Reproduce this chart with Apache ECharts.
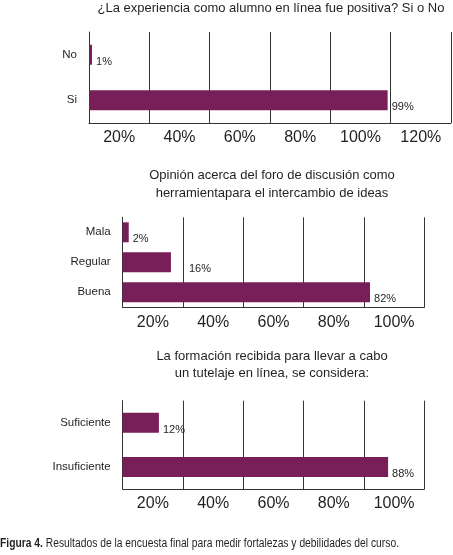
<!DOCTYPE html>
<html>
<head>
<meta charset="utf-8">
<script src="https://cdn.jsdelivr.net/npm/echarts@6/dist/echarts.min.js"></script>
<style>
html,body{margin:0;padding:0;background:#fff;}
#chart{width:453px;height:555px;}
</style>
</head>
<body>
<div id="chart"></div>
<script>
// ---- Data ----
var title1 = '¿La experiencia como alumno en línea fue positiva? Si o No';
var cats1 = ['Si', 'No'];
var vals1 = [99, 1];
var ticks1 = ['20%', '40%', '60%', '80%', '100%', '120%'];

var title2 = 'Opinión acerca del foro de discusión como\nherramientapara el intercambio de ideas';
var cats2 = ['Buena', 'Regular', 'Mala'];
var vals2 = [82, 16, 2];
var ticks2 = ['20%', '40%', '60%', '80%', '100%'];

var title3 = 'La formación recibida para llevar a cabo\nun tutelaje en línea, se considera:';
var cats3 = ['Insuficiente', 'Suficiente'];
var vals3 = [88, 12];
var ticks3 = ['20%', '40%', '60%', '80%', '100%'];

var captionBold = 'Figura 4.';
var captionText = ' Resultados de la encuesta final para medir fortalezas y debilidades del curso.';

// ---- Styles ----
var FONT = 'Liberation Sans, Arial, sans-serif';
var BAR = '#781f5a';
var TXT = '#231f20';
var LINE = '#333';

// caption horizontal compression to mimic the condensed font of the reference
var CAP_FS = 12.5;
var CAP_W = 399;
var mctx = document.createElement('canvas').getContext('2d');
mctx.font = 'bold ' + CAP_FS + 'px ' + FONT;
var wB = mctx.measureText(captionBold).width;
mctx.font = CAP_FS + 'px ' + FONT;
var wN = mctx.measureText(captionText).width;
var capScale = CAP_W / (wB + wN);

var chart = echarts.init(document.getElementById('chart'), null, {renderer: 'canvas'});

var grids = [
  {left: 89, right: 2, top: 32, height: 91},
  {left: 122.7, right: 28.7, top: 217.3, height: 90},
  {left: 122.7, right: 28.7, top: 400.7, height: 88.3}
];
var maxes = [120, 100, 100];
var catsAll = [cats1, cats2, cats3];
var valsAll = [vals1, vals2, vals3];
var ticksAll = [ticks1, ticks2, ticks3];

var xAxes = [], yAxes = [], series = [];
for (var g = 0; g < 3; g++) {
  xAxes.push({
    type: 'value', gridIndex: g, min: 0, max: maxes[g], interval: 20,
    axisLine: {show: true, lineStyle: {color: LINE, width: 1}},
    axisTick: {show: false}, axisLabel: {show: false},
    splitLine: {show: true, lineStyle: {color: LINE, width: 1}}
  });
  xAxes.push({
    type: 'category', gridIndex: g, position: 'bottom', boundaryGap: true,
    data: ticksAll[g],
    axisLine: {show: false}, axisTick: {show: false}, splitLine: {show: false},
    axisLabel: {show: true, interval: 0, margin: 7, color: TXT, fontFamily: FONT, fontSize: 16}
  });
  yAxes.push({
    type: 'category', gridIndex: g, data: catsAll[g],
    axisLine: {show: true, lineStyle: {color: LINE, width: 1}},
    axisTick: {show: false},
    axisLabel: {margin: 12, color: TXT, fontFamily: FONT, fontSize: 11.5}
  });
  var data = valsAll[g].map(function (v, i) {
    if (g === 1 && i === 1) return {value: v, label: {offset: [14, 7]}};
    return v;
  });
  series.push({
    type: 'bar', xAxisIndex: g * 2, yAxisIndex: g, data: data,
    barWidth: 20, itemStyle: {color: BAR},
    label: {
      show: true, position: 'right', distance: 4, offset: [0, 7],
      formatter: '{c}%', color: TXT, fontFamily: FONT, fontSize: 11
    },
    silent: true, animation: false
  });
}

var option = {
  backgroundColor: '#fff',
  animation: false,
  grid: grids,
  xAxis: xAxes,
  yAxis: yAxes,
  series: series,
  graphic: [
    {type: 'text', x: 271, y: 8, style: {text: title1, fill: TXT, font: '13px ' + FONT, textAlign: 'center', textVerticalAlign: 'middle'}},
    {type: 'text', x: 272, y: 184, style: {text: title2, fill: TXT, font: '13px ' + FONT, lineHeight: 18, textAlign: 'center', textVerticalAlign: 'middle'}},
    {type: 'text', x: 272, y: 365, style: {text: title3, fill: TXT, font: '13px ' + FONT, lineHeight: 17, textAlign: 'center', textVerticalAlign: 'middle'}},
    {type: 'text', x: 0, y: 543.3, scaleX: capScale, originX: 0, style: {
      text: '{b|' + captionBold + '}{n|' + captionText + '}',
      textVerticalAlign: 'middle',
      rich: {
        b: {fontFamily: FONT, fontWeight: 'bold', fontSize: CAP_FS, fill: TXT, color: TXT},
        n: {fontFamily: FONT, fontSize: CAP_FS, fill: TXT, color: TXT}
      }
    }}
  ]
};
chart.setOption(option);
</script>
</body>
</html>
